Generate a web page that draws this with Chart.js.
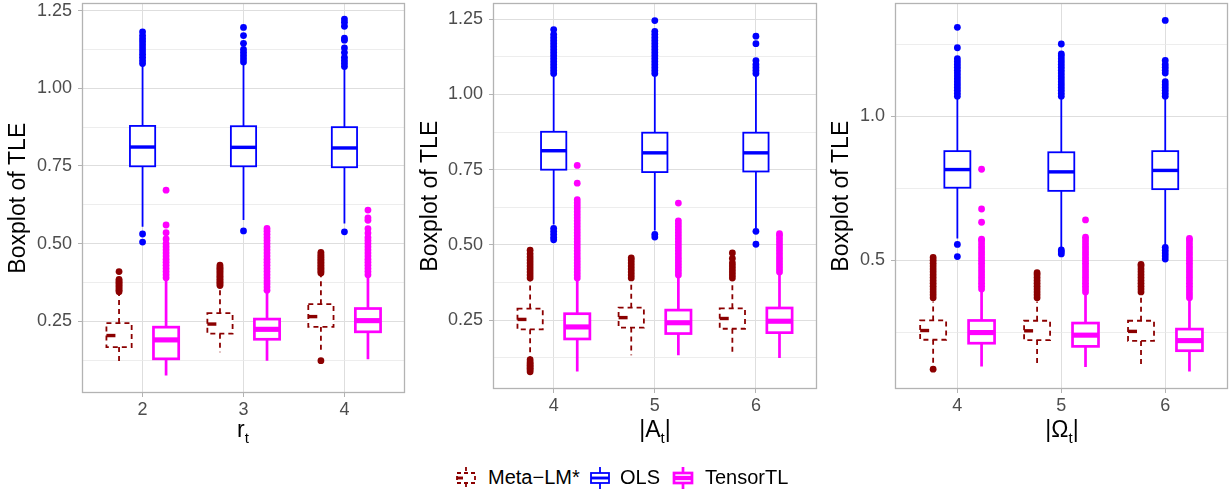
<!DOCTYPE html>
<html>
<head>
<meta charset="utf-8">
<script src="https://cdn.jsdelivr.net/npm/chart.js@4.4.1/dist/chart.umd.min.js"></script>
<style>
  body { margin: 0; background: #fff; font-family: "Liberation Sans", Arial, sans-serif; }
  #fig { position: relative; width: 1231px; height: 493px; overflow: hidden; }
  canvas.panel { position: absolute; top: 0; }
  .xt { position: absolute; top: 418px; font-size: 23px; line-height: 1; transform: translateX(-50%); white-space: nowrap; color: #000; }
  .xt .s { font-size: 15px; position: relative; top: 6px; }
  .lg { position: absolute; top: 465px; font-size: 20px; line-height: 24px; color: #000; white-space: nowrap; }
  canvas.ic { position: absolute; top: 466px; }
</style>
</head>
<body>
<div id="fig">
  <canvas id="p1" class="panel" width="410" height="420" style="left:0"></canvas>
  <canvas id="p2" class="panel" width="410" height="420" style="left:410px"></canvas>
  <canvas id="p3" class="panel" width="411" height="420" style="left:820px"></canvas>

  <div class="xt" style="left:243px">r<span class="s">t</span></div>
  <div class="xt" style="left:655px">|A<span class="s">t</span>|</div>
  <div class="xt" style="left:1062px">|Ω<span class="s">t</span>|</div>

  <canvas id="ic0" class="ic" width="22" height="24" style="left:455px"></canvas>
  <div class="lg" style="left:488px">Meta−LM*</div>
  <canvas id="ic1" class="ic" width="22" height="24" style="left:589px"></canvas>
  <div class="lg" style="left:620px">OLS</div>
  <canvas id="ic2" class="ic" width="22" height="24" style="left:672px"></canvas>
  <div class="lg" style="left:705px">TensorTL</div>
</div>

<script>
// box stats per category: [lower whisker, Q1, median, Q3, upper whisker]
const rCats = ["2", "3", "4"];
const rMeta = [[0.109, 0.167, 0.204, 0.244, 0.338], [0.150, 0.210, 0.241, 0.276, 0.357], [0.148, 0.232, 0.265, 0.305, 0.400]];
const rOls = [[0.554, 0.749, 0.811, 0.879, 1.075], [0.576, 0.749, 0.810, 0.878, 1.080], [0.565, 0.746, 0.808, 0.875, 1.064]];
const rTensor = [[0.075, 0.129, 0.190, 0.231, 0.383], [0.123, 0.192, 0.224, 0.257, 0.345], [0.128, 0.216, 0.252, 0.291, 0.394]];
const rMetaOut = [
  [0.345, 0.35, 0.355, 0.36, 0.365, 0.37, 0.375, 0.38, 0.385, 0.41],
  [0.365, 0.37, 0.375, 0.38, 0.385, 0.39, 0.395, 0.40, 0.405, 0.41, 0.415, 0.42, 0.425, 0.431],
  [0.123, 0.405, 0.41, 0.415, 0.42, 0.425, 0.43, 0.435, 0.44, 0.445, 0.45, 0.455, 0.46, 0.465, 0.472]
];
const rOlsOut = [
  [0.505, 0.531, 1.08, 1.09, 1.10, 1.11, 1.12, 1.13, 1.14, 1.15, 1.16, 1.17, 1.182],
  [0.541, 1.085, 1.095, 1.105, 1.115, 1.125, 1.145, 1.17, 1.196],
  [0.538, 1.07, 1.08, 1.09, 1.10, 1.115, 1.13, 1.155, 1.162, 1.20, 1.213, 1.223]
];
const rTensorOut = [
  [0.39, 0.40, 0.41, 0.42, 0.43, 0.44, 0.45, 0.46, 0.47, 0.48, 0.49, 0.50, 0.515, 0.535, 0.56, 0.672],
  [0.35, 0.36, 0.37, 0.38, 0.39, 0.40, 0.41, 0.42, 0.43, 0.44, 0.45, 0.46, 0.47, 0.48, 0.49, 0.50, 0.51, 0.52, 0.53, 0.54, 0.549],
  [0.40, 0.41, 0.42, 0.43, 0.44, 0.45, 0.46, 0.47, 0.48, 0.49, 0.50, 0.51, 0.52, 0.534, 0.548, 0.575, 0.583, 0.608]
];

const aCats = ["4", "5", "6"];
const aMeta = [[0.127, 0.219, 0.252, 0.288, 0.382], [0.133, 0.225, 0.258, 0.291, 0.382], [0.133, 0.221, 0.255, 0.289, 0.382]];
const aOls = [[0.568, 0.750, 0.813, 0.876, 1.063], [0.548, 0.742, 0.806, 0.873, 1.063], [0.554, 0.744, 0.806, 0.873, 1.063]];
const aTensor = [[0.079, 0.187, 0.227, 0.271, 0.382], [0.133, 0.205, 0.241, 0.283, 0.393], [0.124, 0.208, 0.246, 0.290, 0.404]];
const aMetaOut = [
  [0.078, 0.085, 0.09, 0.095, 0.10, 0.105, 0.11, 0.118, 0.39, 0.40, 0.41, 0.42, 0.43, 0.44, 0.45, 0.46, 0.47, 0.482],
  [0.39, 0.40, 0.41, 0.42, 0.43, 0.44, 0.45, 0.457],
  [0.39, 0.40, 0.41, 0.42, 0.43, 0.44, 0.455, 0.473]
];
const aOlsOut = [
  [0.517, 0.525, 0.535, 0.545, 0.555, 1.07, 1.08, 1.09, 1.10, 1.11, 1.12, 1.13, 1.14, 1.15, 1.16, 1.17, 1.18, 1.19, 1.20, 1.216],
  [0.526, 0.535, 1.07, 1.08, 1.09, 1.10, 1.11, 1.12, 1.13, 1.14, 1.15, 1.16, 1.17, 1.18, 1.19, 1.20, 1.21, 1.246],
  [0.502, 0.545, 1.07, 1.08, 1.09, 1.10, 1.113, 1.169, 1.194]
];
const aTensorOut = [
  [0.39, 0.40, 0.41, 0.42, 0.43, 0.44, 0.45, 0.46, 0.47, 0.48, 0.49, 0.50, 0.51, 0.52, 0.53, 0.54, 0.55, 0.56, 0.57, 0.58, 0.59, 0.60, 0.61, 0.62, 0.63, 0.64, 0.65, 0.705, 0.764],
  [0.40, 0.41, 0.42, 0.43, 0.44, 0.45, 0.46, 0.47, 0.48, 0.49, 0.50, 0.51, 0.52, 0.53, 0.54, 0.55, 0.56, 0.57, 0.58, 0.639],
  [0.41, 0.42, 0.43, 0.44, 0.45, 0.46, 0.47, 0.48, 0.49, 0.50, 0.51, 0.52, 0.53, 0.537]
];

const oCats = ["4", "5", "6"];
const oMeta = [[0.143, 0.224, 0.256, 0.291, 0.357], [0.131, 0.223, 0.255, 0.290, 0.357], [0.131, 0.220, 0.253, 0.290, 0.380]];
const oOls = [[0.576, 0.752, 0.815, 0.879, 1.067], [0.542, 0.741, 0.807, 0.875, 1.067], [0.547, 0.747, 0.812, 0.879, 1.067]];
const oTensor = [[0.131, 0.212, 0.249, 0.291, 0.397], [0.129, 0.201, 0.240, 0.282, 0.386], [0.114, 0.186, 0.221, 0.261, 0.362]];
const oMetaOut = [
  [0.122, 0.37, 0.38, 0.39, 0.40, 0.41, 0.42, 0.43, 0.44, 0.45, 0.46, 0.47, 0.48, 0.49, 0.50, 0.51],
  [0.37, 0.38, 0.39, 0.40, 0.41, 0.42, 0.43, 0.44, 0.45, 0.457],
  [0.39, 0.40, 0.41, 0.42, 0.43, 0.44, 0.45, 0.46, 0.47, 0.48, 0.486]
];
const oOlsOut = [
  [0.513, 0.555, 1.07, 1.08, 1.09, 1.10, 1.11, 1.12, 1.13, 1.14, 1.15, 1.16, 1.17, 1.18, 1.19, 1.20, 1.238, 1.309],
  [0.522, 0.530, 0.536, 1.07, 1.08, 1.09, 1.10, 1.11, 1.12, 1.13, 1.14, 1.15, 1.16, 1.17, 1.18, 1.19, 1.20, 1.21, 1.217, 1.251],
  [0.504, 0.515, 0.525, 0.535, 0.545, 1.07, 1.08, 1.09, 1.10, 1.11, 1.12, 1.15, 1.16, 1.17, 1.18, 1.194, 1.333]
];
const oTensorOut = [
  [0.40, 0.41, 0.42, 0.43, 0.44, 0.45, 0.46, 0.47, 0.48, 0.49, 0.50, 0.51, 0.52, 0.53, 0.54, 0.55, 0.56, 0.57, 0.573, 0.632, 0.678, 0.816],
  [0.39, 0.40, 0.41, 0.42, 0.43, 0.44, 0.45, 0.46, 0.47, 0.48, 0.49, 0.50, 0.51, 0.52, 0.53, 0.54, 0.55, 0.56, 0.57, 0.58, 0.640],
  [0.37, 0.38, 0.39, 0.40, 0.41, 0.42, 0.43, 0.44, 0.45, 0.46, 0.47, 0.48, 0.49, 0.50, 0.51, 0.52, 0.53, 0.54, 0.55, 0.56, 0.57, 0.576]
];

// axis ticks
const qTicks = [0.25, 0.5, 0.75, 1.0, 1.25];
const qLabels = ["0.25", "0.50", "0.75", "1.00", "1.25"];
const qMinor = [0.125, 0.375, 0.625, 0.875, 1.125];
const hTicks = [0.5, 1.0];
const hLabels = ["0.5", "1.0"];
const hMinor = [0.25, 0.75, 1.25];

const methods = ["Meta−LM*", "OLS", "TensorTL"];
const colors = ["#8B0000", "#0000FF", "#FF00FF"];
const shifts = [-0.233, 0, 0.233];
const widths = [1.8, 1.8, 2.7];
const HALF = 0.125;
const FONT = "'Liberation Sans', Arial, sans-serif";

const boxPlugin = {
  id: "boxes",
  beforeDatasetsDraw(chart) {
    const { ctx, scales: { x, y } } = chart;
    chart.data.datasets.forEach((ds, k) => {
      const dashed = k === 0;
      ds.stats.forEach((s, i) => {
        const c = i + shifts[k];
        const l = x.getPixelForValue(c - HALF), r = x.getPixelForValue(c + HALF), m = x.getPixelForValue(c);
        const [lo, q1, md, q3, hi] = s.map(v => y.getPixelForValue(v));
        ctx.save();
        ctx.strokeStyle = colors[k];
        ctx.lineWidth = widths[k];
        ctx.setLineDash(dashed ? [5, 4] : []);
        ctx.beginPath();
        ctx.moveTo(m, q3); ctx.lineTo(m, hi);
        ctx.moveTo(m, q1); ctx.lineTo(m, lo);
        ctx.stroke();
        ctx.fillStyle = "#fff";
        ctx.fillRect(l, q3, r - l, q1 - q3);
        ctx.strokeRect(l, q3, r - l, q1 - q3);
        ctx.lineWidth = widths[k] * 1.9;
        ctx.setLineDash(dashed ? [9, 30] : []);
        ctx.beginPath();
        ctx.moveTo(l, md); ctx.lineTo(r, md);
        ctx.stroke();
        ctx.restore();
      });
    });
  }
};

const framePlugin = {
  id: "frame",
  afterDraw(chart) {
    const { ctx, chartArea: a } = chart;
    ctx.save();
    ctx.strokeStyle = "#B3B3B3";
    ctx.lineWidth = 1.3;
    ctx.strokeRect(Math.round(a.left) + 0.5, Math.round(a.top) + 0.5, Math.round(a.right - a.left) - 1, Math.round(a.bottom - a.top) - 1);
    ctx.restore();
  }
};

function makePanel(id, cats, stats, outs, yMin, yMax, ticks, labels, minor, yw, padRight, xh, titlePad) {
  const all = ticks.concat(minor).sort((a, b) => a - b);
  const datasets = stats.map((st, k) => ({
    label: methods[k],
    stats: st,
    data: outs[k].flatMap((vals, i) => vals.map(v => ({ x: i + shifts[k], y: v }))),
    backgroundColor: colors[k],
    borderWidth: 0,
    pointRadius: 3.4,
    pointHoverRadius: 3.4
  }));
  const isMajor = v => ticks.some(t => Math.abs(t - v) < 1e-9);
  return new Chart(document.getElementById(id), {
    type: "scatter",
    data: { datasets },
    plugins: [boxPlugin, framePlugin],
    options: {
      responsive: false,
      animation: false,
      layout: { padding: { top: 3, right: padRight, left: 0, bottom: 0 } },
      plugins: { legend: { display: false }, tooltip: { enabled: false } },
      scales: {
        x: {
          type: "linear", min: -0.6, max: 2.6,
          afterBuildTicks: s => { s.ticks = cats.map((c, i) => ({ value: i })); },
          afterFit: s => { s.height = xh; s.paddingLeft = 0; s.paddingRight = 0; },
          ticks: { callback: v => cats[v], autoSkip: false, maxRotation: 0, padding: 2, color: "#4D4D4D", font: { size: 18, family: FONT } },
          grid: { color: "#DEDEDE", lineWidth: 1, tickColor: "#B3B3B3", tickLength: 4 },
          border: { display: false }
        },
        y: {
          type: "linear", min: yMin, max: yMax,
          afterBuildTicks: s => { s.ticks = all.map(v => ({ value: v })); },
          afterFit: s => { s.width = yw; s.paddingTop = 0; s.paddingBottom = 0; },
          ticks: {
            callback: v => { const j = ticks.findIndex(t => Math.abs(t - v) < 1e-9); return j >= 0 ? labels[j] : ""; },
            autoSkip: false, padding: 6, color: "#4D4D4D", font: { size: 18, family: FONT }
          },
          grid: {
            color: c => isMajor(c.tick.value) ? "#DEDEDE" : "#E8E8E8",
            lineWidth: c => isMajor(c.tick.value) ? 1 : 0.8,
            tickColor: c => isMajor(c.tick.value) ? "#B3B3B3" : "rgba(0,0,0,0)",
            tickLength: 4
          },
          border: { display: false },
          title: { display: true, text: "Boxplot of TLE", color: "#000", font: { size: 23, family: FONT }, padding: { top: titlePad, bottom: 0 } }
        }
      }
    }
  });
}

makePanel("p1", rCats, [rMeta, rOls, rTensor], [rMetaOut, rOlsOut, rTensorOut], 0.019, 1.2735, qTicks, qLabels, qMinor, 82, 5, 27, 5);
makePanel("p2", aCats, [aMeta, aOls, aTensor], [aMetaOut, aOlsOut, aTensorOut], 0.0206, 1.303, qTicks, qLabels, qMinor, 83, 3, 31, 7);
makePanel("p3", oCats, [oMeta, oOls, oTensor], [oMetaOut, oOlsOut, oTensorOut], 0.053, 1.392, hTicks, hLabels, hMinor, 75, 2, 31, 8);

// legend glyphs
colors.forEach((col, k) => {
  const ctx = document.getElementById("ic" + k).getContext("2d");
  ctx.strokeStyle = col;
  ctx.lineWidth = widths[k];
  ctx.setLineDash(k === 0 ? [4, 3] : []);
  ctx.beginPath();
  ctx.moveTo(11, 1); ctx.lineTo(11, 7);
  ctx.moveTo(11, 17); ctx.lineTo(11, 23);
  ctx.stroke();
  ctx.strokeRect(2, 7, 18, 10);
  ctx.lineWidth = widths[k] * 1.6;
  ctx.setLineDash(k === 0 ? [6, 20] : []);
  ctx.beginPath();
  ctx.moveTo(2, 12); ctx.lineTo(20, 12);
  ctx.stroke();
});
</script>
</body>
</html>
